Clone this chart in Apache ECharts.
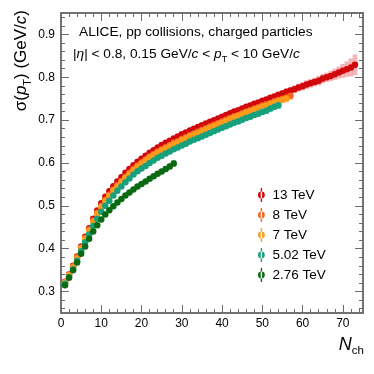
<!DOCTYPE html>
<html>
<head>
<meta charset="utf-8">
<script src="https://cdn.jsdelivr.net/npm/echarts@6/dist/echarts.min.js"></script>
<style>
  html, body { margin: 0; padding: 0; background: #fff; }
  #chart-container { width: 374px; height: 374px; }
</style>
</head>
<body>
<div id="chart-container"></div>
<script>
// sigma(pT) vs Nch, one value per Nch = 1, 2, 3, ...
var val13 = [0.323, 0.340, 0.360, 0.382, 0.405, 0.428, 0.448, 0.470, 0.489, 0.506,
  0.521, 0.534, 0.546, 0.557, 0.567, 0.577, 0.586, 0.595, 0.603, 0.610,
  0.617, 0.624, 0.630, 0.636, 0.642, 0.647, 0.652, 0.657, 0.662, 0.667,
  0.671, 0.676, 0.680, 0.684, 0.688, 0.692, 0.696, 0.700, 0.704, 0.708,
  0.712, 0.716, 0.720, 0.723, 0.727, 0.731, 0.734, 0.738, 0.741, 0.745,
  0.748, 0.752, 0.755, 0.759, 0.762, 0.766, 0.769, 0.772, 0.776, 0.779,
  0.783, 0.786, 0.789, 0.792, 0.797, 0.800, 0.803, 0.807, 0.811, 0.815,
  0.819, 0.823, 0.829];
var val8 = [0.322, 0.339, 0.359, 0.380, 0.403, 0.425, 0.445, 0.466, 0.484, 0.500,
  0.514, 0.526, 0.538, 0.548, 0.558, 0.568, 0.577, 0.586, 0.594, 0.601,
  0.608, 0.615, 0.621, 0.627, 0.632, 0.637, 0.642, 0.647, 0.651, 0.656,
  0.660, 0.665, 0.669, 0.673, 0.677, 0.681, 0.685, 0.689, 0.693, 0.697,
  0.701, 0.705, 0.709, 0.712, 0.716, 0.720, 0.723, 0.727, 0.730, 0.734,
  0.737, 0.740, 0.744, 0.747, 0.750, 0.753, 0.757];
var val7 = [0.321, 0.338, 0.357, 0.378, 0.401, 0.423, 0.442, 0.463, 0.481, 0.497,
  0.511, 0.523, 0.535, 0.545, 0.555, 0.565, 0.574, 0.583, 0.591, 0.598,
  0.605, 0.612, 0.618, 0.624, 0.629, 0.634, 0.639, 0.644, 0.648, 0.653,
  0.657, 0.662, 0.666, 0.670, 0.674, 0.678, 0.682, 0.686, 0.690, 0.694,
  0.698, 0.702, 0.706, 0.709, 0.713, 0.717, 0.720, 0.724, 0.727, 0.731,
  0.734, 0.737, 0.741, 0.744, 0.747, 0.750];
var val502 = [0.318, 0.334, 0.352, 0.372, 0.394, 0.415, 0.433, 0.453, 0.470, 0.486,
  0.500, 0.512, 0.524, 0.535, 0.545, 0.555, 0.564, 0.573, 0.581, 0.587,
  0.593, 0.600, 0.606, 0.612, 0.617, 0.622, 0.627, 0.632, 0.636, 0.641,
  0.645, 0.650, 0.654, 0.658, 0.662, 0.666, 0.670, 0.674, 0.678, 0.682,
  0.686, 0.690, 0.694, 0.697, 0.701, 0.705, 0.708, 0.712, 0.715, 0.719,
  0.722, 0.727, 0.731, 0.735];
var val276 = [0.315, 0.332, 0.350, 0.368, 0.388, 0.405, 0.423, 0.440, 0.455, 0.468,
  0.480, 0.490, 0.499, 0.508, 0.516, 0.524, 0.531, 0.538, 0.545, 0.551,
  0.557, 0.563, 0.569, 0.575, 0.580, 0.586, 0.592, 0.599];

// systematic half-widths on the tails (first Nch of each tail given separately)
var sys13Start = 48;
var sys13 = [0.005, 0.005, 0.006, 0.006, 0.007, 0.007, 0.007, 0.008, 0.008, 0.008,
  0.009, 0.009, 0.010, 0.010, 0.010, 0.010, 0.011, 0.011, 0.011, 0.012,
  0.013, 0.014, 0.016, 0.018, 0.021, 0.024];
var sys8Start = 50;
var sys8 = [0.005, 0.005, 0.006, 0.006, 0.007, 0.008, 0.009, 0.010];
var sys502Start = 44;
var sys502 = [0.005, 0.005, 0.005, 0.006, 0.006, 0.006, 0.007, 0.007, 0.008, 0.008, 0.009];
var sys276Start = 20;
var sys276 = [0.004, 0.004, 0.005, 0.005, 0.005, 0.006, 0.006, 0.007, 0.008];

var energies = ["13 TeV", "8 TeV", "7 TeV", "5.02 TeV", "2.76 TeV"];

var xLabels = [0, 10, 20, 30, 40, 50, 60, 70];
var xMinor = [0, 2, 4, 6, 8, 10, 12, 14, 16, 18, 20, 22, 24, 26, 28, 30, 32, 34, 36, 38,
  40, 42, 44, 46, 48, 50, 52, 54, 56, 58, 60, 62, 64, 66, 68, 70, 72, 74];
var yLabels = [0.3, 0.4, 0.5, 0.6, 0.7, 0.8, 0.9];
var yMinor = [0.26, 0.28, 0.30, 0.32, 0.34, 0.36, 0.38, 0.40, 0.42, 0.44, 0.46, 0.48,
  0.50, 0.52, 0.54, 0.56, 0.58, 0.60, 0.62, 0.64, 0.66, 0.68, 0.70, 0.72, 0.74, 0.76,
  0.78, 0.80, 0.82, 0.84, 0.86, 0.88, 0.90, 0.92, 0.94];

var colors = ["#d0080c", "#f5661e", "#ff9c1e", "#16a07c", "#0a6a12"];
var bandColors = ["#f3b5b5", "#fbcfaa", "#fde0b0", "#a6dcc8", "#a8d2aa"];

var frame = "#6a6a6a";
var font = "Liberation Sans";

var dom = document.getElementById("chart-container");
var myChart = echarts.init(dom, null, { renderer: "canvas" });

function points(vals) {
  return vals.map(function (v, i) { return [i + 1, v]; });
}

function band(vals, start, errs) {
  return errs.map(function (e, i) {
    var v = vals[start - 1 + i];
    return [start + i, v - e, v + e];
  });
}

function xAxisDef(pos, ticks, len, labels) {
  return {
    type: "value", position: pos, min: 0, max: 75,
    axisLine: { show: true, onZero: false, lineStyle: { color: frame, width: 1.5 } },
    axisTick: { show: true, inside: true, length: len, customValues: ticks,
      lineStyle: { color: frame, width: 1 } },
    axisLabel: { show: labels, customValues: xLabels, margin: 5, fontSize: 12,
      fontFamily: font, color: "#000" },
    splitLine: { show: false }
  };
}

function yAxisDef(pos, ticks, len, labels) {
  return {
    type: "value", position: pos, min: 0.25, max: 0.95,
    axisLine: { show: true, onZero: false, lineStyle: { color: frame, width: 1.5 } },
    axisTick: { show: true, inside: true, length: len, customValues: ticks,
      lineStyle: { color: frame, width: 1 } },
    axisLabel: { show: labels, customValues: yLabels, margin: 6, fontSize: 12,
      fontFamily: font, color: "#000",
      formatter: function (v) { return v.toFixed(1); } },
    splitLine: { show: false }
  };
}

function bandSeries(name, data, color) {
  return {
    name: name, type: "custom", z: 1, silent: true,
    renderItem: function (params, api) {
      var a = api.coord([api.value(0) - 0.6, api.value(2)]);
      var b = api.coord([api.value(0) + 0.6, api.value(1)]);
      return {
        type: "rect",
        shape: { x: a[0], y: a[1], width: b[0] - a[0], height: b[1] - a[1] },
        style: { fill: color }
      };
    },
    data: data
  };
}

function dotSeries(idx, vals) {
  return {
    name: energies[idx], type: "scatter", z: 3 + idx,
    symbol: "circle", symbolSize: 6.5,
    itemStyle: { color: colors[idx], opacity: 1 },
    data: points(vals)
  };
}

var legendIcon = "path://M3.3,0h1.4v14h-1.4z M4,3.6a3.4,3.4 0 1,0 0.001,0z";

var option = {
  animation: false,
  grid: { left: 61, right: 11, top: 13, bottom: 61 },
  xAxis: [
    xAxisDef("bottom", xLabels, 8, true),
    xAxisDef("bottom", xMinor, 4, false),
    xAxisDef("top", xLabels, 8, false),
    xAxisDef("top", xMinor, 4, false)
  ],
  yAxis: [
    yAxisDef("left", yLabels, 8, true),
    yAxisDef("left", yMinor, 4, false),
    yAxisDef("right", yLabels, 8, false),
    yAxisDef("right", yMinor, 4, false)
  ],
  legend: {
    orient: "vertical", left: 253, top: 183,
    itemWidth: 8, itemHeight: 14, itemGap: 6,
    textStyle: { fontSize: 13.5, fontFamily: font, color: "#000", padding: [0, 0, 0, 2] },
    data: energies.map(function (n) { return { name: n, icon: legendIcon }; })
  },
  graphic: [
    {
      type: "text", left: 79, top: 25, silent: true,
      style: { text: "ALICE, pp collisions, charged particles", fontSize: 13.7,
        fontFamily: font, fill: "#000" }
    },
    {
      type: "text", x: 73, y: 44, silent: true,
      style: {
        text: "|{i|η}| < 0.8, 0.15 GeV/{i|c} < {i|p}{s|T} < 10 GeV/{i|c}",
        fontSize: 13.7, fontFamily: font, fill: "#000", lineHeight: 20,
        rich: {
          i: { fontStyle: "italic", fontSize: 13.7, fontFamily: font, lineHeight: 20 },
          s: { fontSize: 9, fontFamily: font, verticalAlign: "bottom", lineHeight: 9 }
        }
      }
    },
    {
      type: "text", x: 9, y: 10, rotation: Math.PI / 2, silent: true,
      style: {
        text: "σ({i|p}{s|T}) (GeV/{i|c})",
        fontSize: 17, fontFamily: font, fill: "#000", align: "right",
        verticalAlign: "top", lineHeight: 24,
        rich: {
          i: { fontStyle: "italic", fontSize: 17, fontFamily: font, lineHeight: 24 },
          s: { fontSize: 11, fontFamily: font, verticalAlign: "bottom", lineHeight: 11 }
        }
      }
    },
    {
      type: "text", x: 364, y: 333, silent: true,
      style: {
        text: "{n|N}{s|ch}", fill: "#000", align: "right", verticalAlign: "top",
        rich: {
          n: { fontStyle: "italic", fontSize: 18, fontFamily: font, lineHeight: 24 },
          s: { fontSize: 11.5, fontFamily: font, verticalAlign: "bottom", lineHeight: 12 }
        }
      }
    }
  ],
  series: [
    bandSeries("b13", band(val13, sys13Start, sys13), bandColors[0]),
    bandSeries("b8", band(val8, sys8Start, sys8), bandColors[1]),
    bandSeries("b502", band(val502, sys502Start, sys502), bandColors[3]),
    bandSeries("b276", band(val276, sys276Start, sys276), bandColors[4]),
    dotSeries(0, val13),
    dotSeries(1, val8),
    dotSeries(2, val7),
    dotSeries(3, val502),
    dotSeries(4, val276)
  ]
};

if (option && typeof option === "object") {
  myChart.setOption(option);
}

window.addEventListener("resize", myChart.resize);
</script>
</body>
</html>
